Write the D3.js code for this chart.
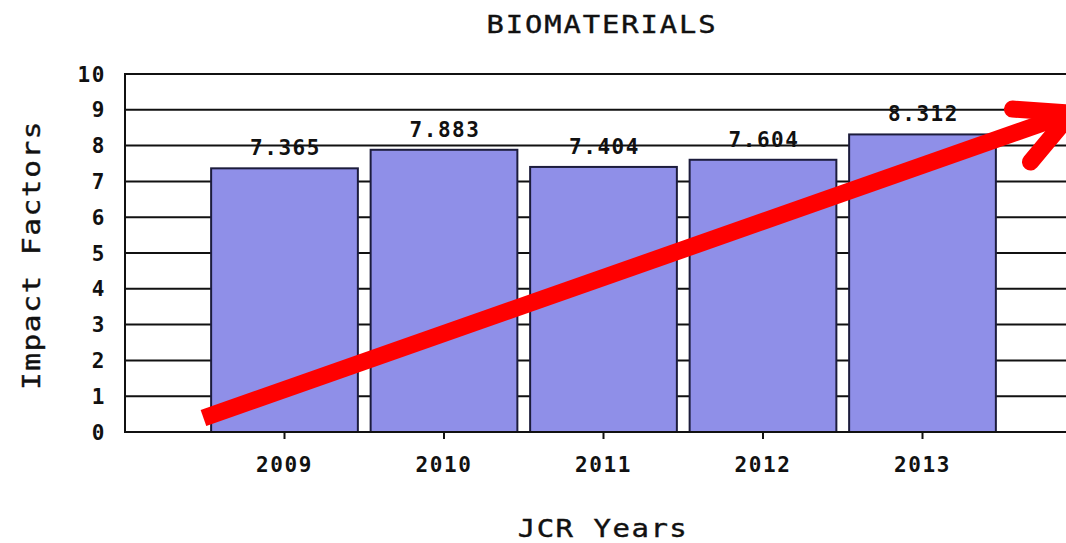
<!DOCTYPE html>
<html>
<head>
<meta charset="utf-8">
<script src="https://cdn.jsdelivr.net/npm/d3@7"></script>
<style>
  html, body { margin: 0; padding: 0; background: #fff; overflow: hidden; }
  svg { display: block; }
  text { font-family: "DejaVu Sans Mono", "Liberation Mono", monospace; fill: #111; }
</style>
</head>
<body>
<svg id="chart" width="1066" height="543"></svg>
<script>
// ---- data ----
const title = "BIOMATERIALS";
const years = ["2009", "2010", "2011", "2012", "2013"];
const impactFactors = [7.365, 7.883, 7.404, 7.604, 8.312];
const valueLabels = ["7.365", "7.883", "7.404", "7.604", "8.312"];
const yTicks = [0, 1, 2, 3, 4, 5, 6, 7, 8, 9, 10];
const xAxisTitle = "JCR Years";
const yAxisTitle = "Impact Factors";
// trend arrow annotation in (category index, value) units
const arrowShaft = [[-0.508, 0.39], [4.934, 8.91]];
const arrowHeadUpper = [[4.564, 9.02], [4.934, 8.91]];
const arrowHeadLower = [[4.677, 7.54], [4.934, 8.91]];

// ---- layout ----
const svg = d3.select("#chart");
const plotL = 125, plotR = 1082, plotT = 74, plotB = 432;

const x = d3.scalePoint().domain(years).range([plotL, plotR]).padding(1);
const step = x.step();
const barW = step * 0.92;
const y = d3.scaleLinear().domain([0, 10]).range([plotB, plotT]);
const xi = d3.scaleLinear().domain([0, years.length - 1]).range([x(years[0]), x(years[years.length - 1])]);

// gridlines
svg.append("g").selectAll("line").data(yTicks).join("line")
  .attr("x1", plotL).attr("x2", plotR)
  .attr("y1", d => y(d)).attr("y2", d => y(d))
  .attr("stroke", "#111").attr("stroke-width", 2);

// y axis line
svg.append("line").attr("x1", plotL).attr("x2", plotL)
  .attr("y1", y(10) - 1).attr("y2", y(0) + 1)
  .attr("stroke", "#111").attr("stroke-width", 2);

// bars
svg.append("g").selectAll("rect").data(impactFactors).join("rect")
  .attr("x", (d, i) => x(years[i]) - barW / 2)
  .attr("y", d => y(d))
  .attr("width", barW)
  .attr("height", d => y(0) - y(d))
  .attr("fill", "#8f8fe8")
  .attr("stroke", "#1c1c3c")
  .attr("stroke-width", 2);

// bottom axis line on top of bars
svg.append("line").attr("x1", plotL).attr("x2", plotR)
  .attr("y1", y(0)).attr("y2", y(0))
  .attr("stroke", "#111").attr("stroke-width", 2);

// x ticks
svg.append("g").selectAll("line").data(years).join("line")
  .attr("x1", d => x(d)).attr("x2", d => x(d))
  .attr("y1", y(0)).attr("y2", y(0) + 7)
  .attr("stroke", "#111").attr("stroke-width", 2);

const numStyle = sel => sel
  .attr("font-family", "'DejaVu Sans Mono', monospace")
  .attr("font-weight", "bold")
  .attr("font-size", 21)
  .attr("letter-spacing", 1.6);

// x tick labels
svg.append("g").selectAll("text").data(years).join("text")
  .call(numStyle)
  .attr("x", d => x(d)).attr("y", 472)
  .attr("text-anchor", "middle")
  .text(d => d);

// y tick labels
svg.append("g").selectAll("text").data(yTicks).join("text")
  .call(numStyle)
  .attr("x", 106).attr("y", d => y(d) + 7.5)
  .attr("text-anchor", "end")
  .text(d => d);

// value labels
svg.append("g").selectAll("text").data(impactFactors).join("text")
  .call(numStyle)
  .attr("x", (d, i) => x(years[i]) + 1)
  .attr("y", d => y(d) - 13)
  .attr("text-anchor", "middle")
  .text((d, i) => valueLabels[i]);

// titles (wide monospace glyphs)
const wordStyle = sel => sel
  .attr("font-family", "'DejaVu Sans Mono', monospace")
  .attr("font-size", 24)
  .attr("letter-spacing", 1.6)
  .attr("stroke", "#111").attr("stroke-width", 0.4)
  .attr("text-anchor", "middle");

svg.append("text").call(wordStyle)
  .attr("transform", "translate(602,33) scale(1.2,1)")
  .text(title);

svg.append("text").call(wordStyle)
  .attr("font-size", 25).attr("letter-spacing", 1.3)
  .attr("transform", "translate(603,537) scale(1.16,1)")
  .text(xAxisTitle);

svg.append("text").call(wordStyle)
  .attr("font-size", 25).attr("letter-spacing", 1.3)
  .attr("transform", "translate(40,255) rotate(-90) scale(1.18,1)")
  .text(yAxisTitle);

// red trend arrow
const line = d3.line().x(d => xi(d[0])).y(d => y(d[1]));
svg.append("path").attr("d", line(arrowShaft))
  .attr("fill", "none").attr("stroke", "#ff0000")
  .attr("stroke-width", 17).attr("stroke-linecap", "butt");
[arrowHeadUpper, arrowHeadLower].forEach(seg => {
  svg.append("path").attr("d", line(seg))
    .attr("fill", "none").attr("stroke", "#ff0000")
    .attr("stroke-width", 17).attr("stroke-linecap", "round");
});
</script>
</body>
</html>
